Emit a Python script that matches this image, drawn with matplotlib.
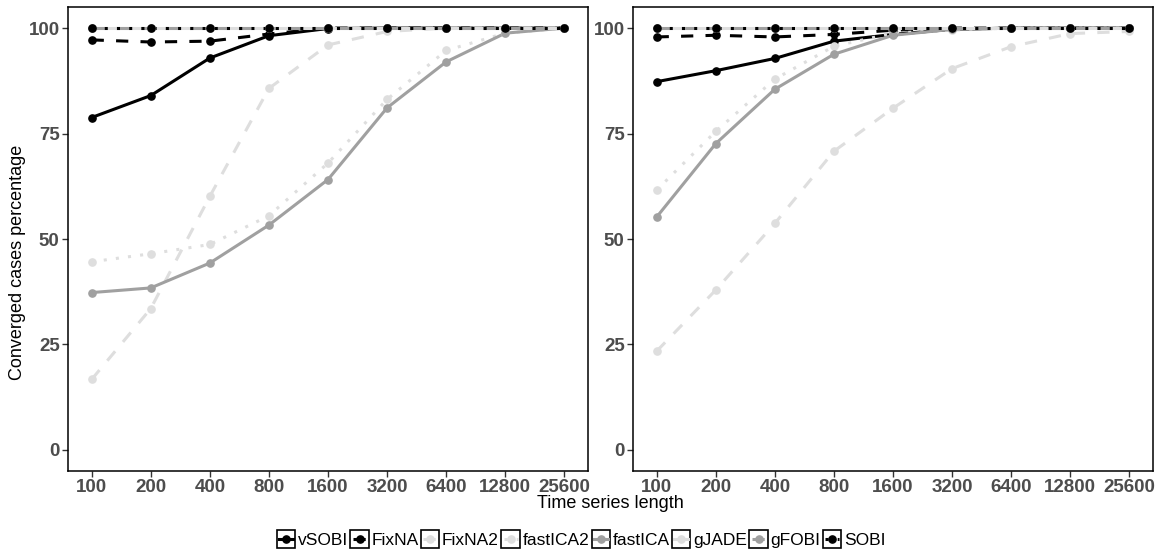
import numpy as np
import matplotlib
matplotlib.use('Agg')
import matplotlib.pyplot as plt
from matplotlib.lines import Line2D
from matplotlib.patches import Rectangle

plt.rcParams['font.family'] = ['Liberation Sans', 'DejaVu Sans']

# time series lengths (x axis, log2 spaced)
lengths = [100, 200, 400, 800, 1600, 3200, 6400, 12800, 25600]

# left panel
vSOBI_a = [78.8, 84.0, 92.9, 98.2, 99.9, 100, 100, 100, 100]
FixNA_a = [97.2, 96.7, 96.9, 98.6, 100, 100, 100, 100, 100]
FixNA2_a = [16.7, 33.5, 60.1, 85.7, 96.0, 99.2, 100, 100, 100]
fastICA2_a = [44.6, 46.5, 48.7, 55.5, 68.0, 83.1, 94.7, 98.8, 100]
fastICA_a = [37.3, 38.4, 44.3, 53.3, 64.1, 81.1, 92.0, 98.8, 100]
gJADE_a = [100, 100, 100, 100, 100, 100, 100, 100, 100]
gFOBI_a = [100, 100, 100, 100, 100, 100, 100, 100, 100]
SOBI_a = [100, 100, 100, 100, 100, 100, 100, 100, 100]

# right panel
vSOBI_b = [87.3, 89.9, 92.8, 96.9, 98.5, 99.7, 100, 100, 100]
FixNA_b = [97.9, 98.3, 97.9, 98.5, 99.5, 100, 100, 100, 100]
FixNA2_b = [23.4, 37.9, 53.7, 70.8, 81.0, 90.4, 95.6, 98.7, 99.2]
fastICA2_b = [61.6, 75.5, 87.9, 95.7, 98.8, 99.5, 100, 100, 100]
fastICA_b = [55.2, 72.6, 85.5, 93.8, 98.3, 99.7, 100, 100, 100]
gJADE_b = [100, 100, 100, 100, 100, 100, 100, 100, 100]
gFOBI_b = [100, 100, 100, 100, 100, 100, 100, 100, 100]
SOBI_b = [100, 100, 100, 100, 100, 100, 100, 100, 100]

methods = ["vSOBI", "FixNA", "FixNA2", "fastICA2", "fastICA", "gJADE", "gFOBI", "SOBI"]
left_data = [vSOBI_a, FixNA_a, FixNA2_a, fastICA2_a, fastICA_a, gJADE_a, gFOBI_a, SOBI_a]
right_data = [vSOBI_b, FixNA_b, FixNA2_b, fastICA2_b, fastICA_b, gJADE_b, gFOBI_b, SOBI_b]

black = '#000000'
dark = '#A0A0A0'
light = '#DEDEDE'
colors = [black, black, light, light, dark, light, dark, black]
lw = 2.2
ms = 5.2
dashed = (0, (4, 4))
dotted = (0, (1, 3))
styles = ['-', dashed, dashed, dotted, '-', '-', dashed, dotted]


class BoxKey:
    # ggplot-like legend key: white square with black border, line and point through it
    def __init__(self, color, ls):
        self.color = color
        self.ls = ls

    def legend_artist(self, legend, orig_handle, fontsize, handlebox):
        x0, y0 = -handlebox.xdescent, -handlebox.ydescent
        w, h = handlebox.width, handlebox.height
        t = handlebox.get_transform()
        rect = Rectangle((x0, y0), w, h, facecolor='white', edgecolor='black',
                         linewidth=1.2, transform=t)
        ln = Line2D([x0 + 1.5, x0 + w - 1.5], [y0 + h / 2] * 2, color=self.color,
                    linestyle=self.ls, linewidth=lw, transform=t)
        mk = Line2D([x0 + w / 2], [y0 + h / 2], marker='o', markersize=ms,
                    color=self.color, linestyle='none', transform=t)
        for a in (rect, ln, mk):
            handlebox.add_artist(a)
        return rect


fig = plt.figure(figsize=(11.62, 5.59), dpi=100)
W, H = 1162, 559
axes = [fig.add_axes([68 / W, 88 / H, 520 / W, 464 / H]),
        fig.add_axes([633 / W, 88 / H, 520 / W, 464 / H])]

x = np.log2(lengths)
for ax, data in zip(axes, [left_data, right_data]):
    for vals, c, ls in zip(data, colors, styles):
        ax.plot(x, vals, color=c, linestyle=ls, linewidth=lw, dash_capstyle='butt',
                solid_capstyle='butt')
    for vals, c in zip(data, colors):
        ax.plot(x, vals, linestyle='none', marker='o', markersize=ms, color=c)
    ax.set_xlim(x[0] - 0.4, x[-1] + 0.4)
    ax.set_ylim(-5, 105)
    ax.set_xticks(x)
    ax.set_xticklabels([str(v) for v in lengths])
    ax.set_yticks([0, 25, 50, 75, 100])
    ax.tick_params(direction='out', length=4, width=1, color='#333333',
                   labelsize=13.5, labelcolor='#4D4D4D', pad=2)
    for lab in ax.get_xticklabels() + ax.get_yticklabels():
        lab.set_fontweight('bold')
    for sp in ax.spines.values():
        sp.set_linewidth(1.1)
        sp.set_color('black')

fig.text(18 / W, 1 - 262 / H, "Converged cases percentage", rotation=90,
         ha='center', va='center', fontsize=13)
fig.text(610 / W, 1 - 504 / H, "Time series length", ha='center', va='center',
         fontsize=13)

# legend with boxed keys
handles = [Line2D([], [], color=c) for c in colors]
hmap = {h: BoxKey(c, ls) for h, c, ls in zip(handles, colors, styles)}
fig.legend(handles, methods, handler_map=hmap,
           loc='center', bbox_to_anchor=(0.5, 1 - 539 / H), ncol=8, frameon=False,
           fontsize=12.5, handlelength=1.05, handleheight=1.3, handletextpad=0.15,
           columnspacing=0.15, borderaxespad=0, borderpad=0)

fig.savefig("out.png", dpi=100)
